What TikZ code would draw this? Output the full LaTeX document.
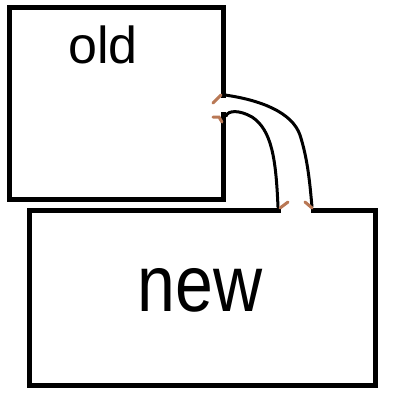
\documentclass[tikz,border=0pt]{standalone}
\usepackage{fontspec}
\setmainfont{Liberation Sans}
\definecolor{tubebrown}{RGB}{185,120,85}
\begin{document}
\begin{tikzpicture}[x=1pt,y=-1pt,
  boxline/.style={line width=5pt,line cap=rect},
  tube/.style={line width=3pt,line cap=round},
  tick/.style={tubebrown,line width=3pt,line cap=round},
  lbl/.style={inner sep=0pt,anchor=base}]
\useasboundingbox (0,0) rectangle (400,400);
\fill[white] (0,0) rectangle (400,400);
% old box
\coordinate (o1) at (9.5,7.5);
\coordinate (o2) at (223.5,7.5);
\coordinate (o3) at (223.5,199.5);
\coordinate (o4) at (9.5,199.5);
\coordinate (og1) at (223.5,95);
\coordinate (og2) at (223.5,114);
\draw[boxline] (og1) -- (o2) -- (o1) -- (o4) -- (o3) -- (og2);
% new box
\coordinate (n1) at (29,210.5);
\coordinate (n2) at (375.5,210.5);
\coordinate (n3) at (375.5,385);
\coordinate (n4) at (29,385);
\coordinate (ng1) at (278,210.5);
\coordinate (ng2) at (313,210.5);
\draw[boxline] (ng1) -- (n1) -- (n4) -- (n3) -- (n2) -- (ng2);
% tube
\coordinate (ta) at (225,95);
\coordinate (tb) at (312,207);
\coordinate (tc) at (226,116);
\coordinate (td) at (278,207);
\draw[tube] (ta) .. controls (260,100) and (292,112) .. (300,135)
  .. controls (308,160) and (310,185) .. (tb);
\draw[tube] (tc) .. controls (228,110) and (240,110) .. (252,117)
  .. controls (272,130) and (276,160) .. (td);
% ticks
\draw[tick] (213,103) -- (221,95);
\draw[tick] (213,117) -- (219,117) -- (222,122);
\draw[tick] (280,208) -- (288,202);
\draw[tick] (305,202) -- (312,208);
% labels
\node[lbl,font=\fontsize{52}{52}\selectfont] (old) at (103,63) {old};
\node[lbl,font=\fontsize{80}{80}\selectfont,xscale=0.85] (new) at (200,311) {new};
\end{tikzpicture}
\end{document}
